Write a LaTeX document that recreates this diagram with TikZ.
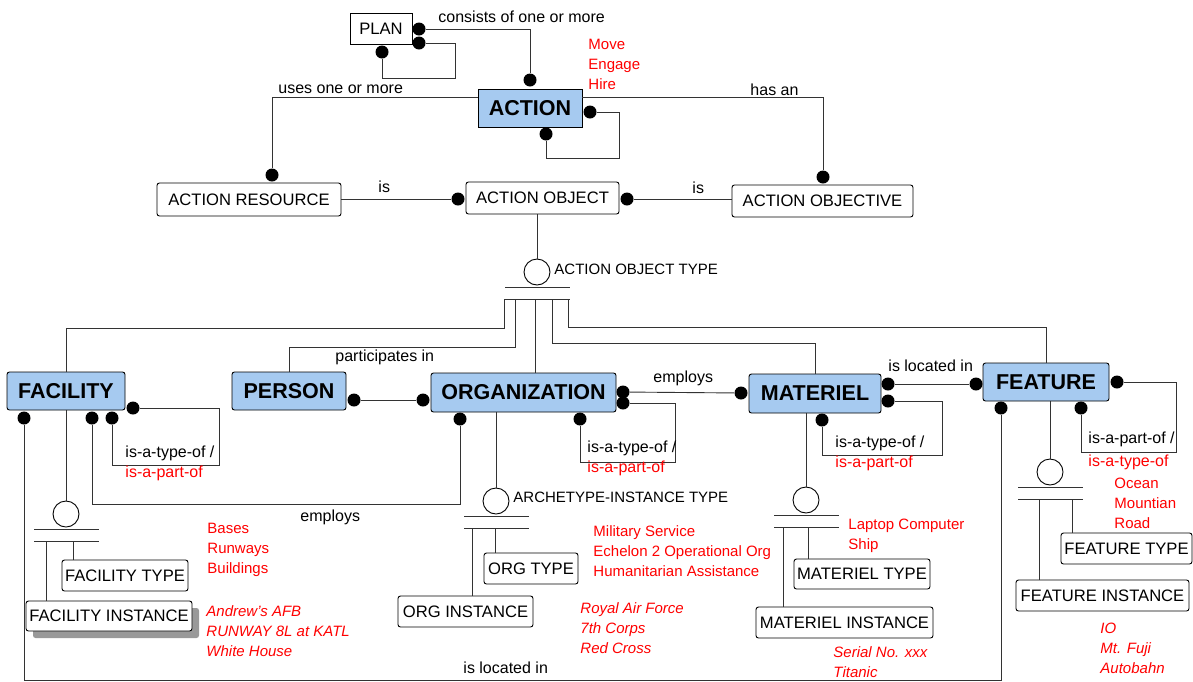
\documentclass[tikz,border=0pt]{standalone}
\usepackage{fontspec}
\setmainfont{Liberation Sans}
\usetikzlibrary{shadows}
\definecolor{entblue}{RGB}{166,202,240}

\begin{document}
\begin{tikzpicture}
  [x=1pt,y=-1pt,line width=0.9pt]
  \tikzstyle{item} = [draw, fill=white, rounded corners=2.5pt, inner sep=0pt, minimum height=31pt, font=\fontsize{16.6}{19}\selectfont]
  \tikzstyle{entity} = [draw, fill=entblue, rounded corners=2.5pt, inner sep=0pt, minimum height=38pt, font=\bfseries\fontsize{21.5}{25}\selectfont]
  \tikzstyle{blob} = [circle, fill=black, inner sep=0pt, minimum size=13pt]
  \tikzstyle{catsym} = [circle, draw, fill=white, inner sep=0pt, minimum size=26pt]
  \tikzstyle{rel} = [anchor=west, inner sep=0pt, font=\fontsize{16}{20}\selectfont]
  \tikzstyle{eg} = [anchor=west, inner sep=0pt, align=left, text=red, font=\fontsize{15}{20}\selectfont]
  \tikzstyle{egi} = [eg, font=\itshape\fontsize{15}{20}\selectfont]
  \tikzstyle{wire} = [draw=black!80]
  \useasboundingbox (0,0) rectangle (1193,681);

  \node[item, rounded corners=0pt, minimum width=62pt] (plan) at (381,28.5) {PLAN};
  \node[entity, rounded corners=0pt, minimum width=104pt] (act) at (530,108) {ACTION};
  \node[item, minimum width=184pt, minimum height=33pt] (ares) at (249,199.5) {ACTION RESOURCE};
  \node[item, minimum width=153pt, minimum height=32pt] (aobj) at (542.5,198) {ACTION OBJECT};
  \node[item, minimum width=181pt, minimum height=32pt] (aobv) at (822.5,201) {ACTION OBJECTIVE};
  \node[entity, minimum width=118pt] (fac) at (66,391) {FACILITY};
  \node[entity, minimum width=114pt] (per) at (289,391) {PERSON};
  \node[entity, minimum width=185pt, minimum height=39pt] (org) at (523.5,392.5) {ORGANIZATION};
  \node[entity, minimum width=132pt, minimum height=39pt] (mat) at (815,393.5) {MATERIEL};
  \node[entity, minimum width=126pt] (fea) at (1046,382) {FEATURE};
  \node[item, minimum width=126pt] (factype) at (125,575.5) {FACILITY TYPE};
  \node[item, minimum width=166pt, minimum height=30pt, drop shadow={shadow xshift=7pt, shadow yshift=-7pt, fill=black!40, opacity=1}] (facinst) at (109,616) {FACILITY INSTANCE};
  \node[item, minimum width=94pt] (orgtype) at (531,568.5) {ORG TYPE};
  \node[item, minimum width=135pt] (orginst) at (465.5,611.5) {ORG INSTANCE};
  \node[item, minimum width=136pt, minimum height=30pt] (mattype) at (862,574) {MATERIEL TYPE};
  \node[item, minimum width=177pt] (matinst) at (844.5,622.5) {MATERIEL INSTANCE};
  \node[item, minimum width=131pt] (featype) at (1126.5,548.5) {FEATURE TYPE};
  \node[item, minimum width=173pt] (feainst) at (1102.5,595.5) {FEATURE INSTANCE};

  \foreach \n/\x/\y in {aot/537/272, fct/66/514, ort/496/501, mtt/806/500, ftt/1050/472} {
    \node[catsym] (\n) at (\x,\y) {};
    \draw[wire] (\x-32,\y+15) -- (\x+33,\y+15) (\x-32,\y+27) -- (\x+33,\y+27);
  }

  \foreach \n/\x/\y in {pl1/419/29, pl2/419/43, pl3/382/52, ac1/530/80, ac2/590/112, ac3/546/134,
      ar1/272/175, ao1/458/199, ao2/627/199, aj1/823/177,
      fa1/24/418, fa2/92/418, fa3/112/418, fa4/133/408, pe1/354/400,
      or1/423/400, or2/460/419, or3/580/419, or4/623/392, or5/623/403,
      ma1/741/393, ma2/888/384, ma3/888/401, ma4/822/420,
      fe1/976/384, fe2/1117/382, fe3/1001/408, fe4/1081/408}
    \node[blob] (\n) at (\x,\y) {};

  \draw[wire] (pl1) -| (ac1);
  \draw[wire] (pl2) -| (455,78) -| (pl3);
  \draw[wire] ([yshift=-9pt]act.north west) -| (ar1);
  \draw[wire] ([yshift=-9pt]act.north east) -| (aj1);
  \draw[wire] (ac2) -| (619,158) -| (ac3);
  \draw[wire] (ao1) -- (ao1 -| ares.east);
  \draw[wire] (ao2) -- (ao2 -| aobv.west);
  \draw[wire] (aot) -- (aot |- aobj.south);

  \draw[wire] (504,299) -- (504,328) -| (fac.north);
  \draw[wire] (515,299) -- (515,347) -| (per.north);
  \draw[wire] (535,299) -- (org.north -| 535,299);
  \draw[wire] (552,299) -- (552,343) -| (mat.north);
  \draw[wire] (568,299) -- (568,327) -| (fea.north);

  \draw[wire] (fct) -- (fct |- fac.south);
  \draw[wire] (ort) -- (ort |- org.south);
  \draw[wire] (mtt) -- (mtt |- mat.south);
  \draw[wire] (ftt) -- (ftt |- fea.south);

  \draw[wire] (fa1) |- (1001,680) -- (fe3);
  \draw[wire] (fa2) |- (460,504) -- (or2);
  \draw[wire] (fa4) -| (219,465) -| (fa3);
  \draw[wire] (pe1) -- (or1);
  \draw[wire] (or4) -- (ma1);
  \draw[wire] (or5) -| (675,462) -| (or3);
  \draw[wire] (ma2) -- (fe1);
  \draw[wire] (ma3) -| (942,455) -| (ma4);
  \draw[wire] (fe2) -| (1176,452) -| (fe4);

  \draw[wire] (46,541) -- (facinst.north -| 46,541);
  \draw[wire] (73,541) -- (factype.north -| 73,541);
  \draw[wire] (472,528) -- (orginst.north -| 472,528);
  \draw[wire] (495,528) -- (orgtype.north -| 495,528);
  \draw[wire] (783,527) -- (matinst.north -| 783,527);
  \draw[wire] (808,527) -- (mattype.north -| 808,527);
  \draw[wire] (1039,499) -- (feainst.north -| 1039,499);
  \draw[wire] (1072,499) -- (featype.north -| 1072,499);

  \node[rel] (lcons) at (438,17) {consists of one or more};
  \node[rel] (luses) at (278,89) {uses one or more};
  \node[rel] (lhas) at (750,90) {has an};
  \node[rel] (lis1) at (378,187) {is};
  \node[rel] (lis2) at (692,188) {is};
  \node[rel, font=\fontsize{15}{18}\selectfont] (laot) at (554,269) {ACTION OBJECT TYPE};
  \node[rel] (lpart) at (335,357) {participates in};
  \node[rel] (lemp1) at (653,378) {employs};
  \node[rel] (lloc1) at (888,366) {is located in};
  \node[rel] (lemp2) at (300,517) {employs};
  \node[rel] (lloc2) at (463,668) {is located in};
  \node[rel, font=\fontsize{15}{18}\selectfont] (lait) at (513,497) {ARCHETYPE-INSTANCE TYPE};
  \node[rel, align=left] (lfac) at (125,463) {is-a-type-of /\\\textcolor{red}{is-a-part-of}};
  \node[rel, align=left] (lorg) at (587,458) {is-a-type-of /\\\textcolor{red}{is-a-part-of}};
  \node[rel, align=left] (lmat) at (835,453) {is-a-type-of /\\\textcolor{red}{is-a-part-of}};
  \node[rel] (lfea1) at (1088,439) {is-a-part-of /};
  \node[rel, text=red] (lfea2) at (1088,462) {is-a-type-of};

  \node[eg] (eact) at (588,64) {Move\\Engage\\Hire};
  \node[eg] (efac) at (207,550) {Bases\\Runways\\Buildings};
  \node[egi] (efaci) at (206,631) {Andrew's AFB\\RUNWAY 8L at KATL\\White House};
  \node[eg] (eorg) at (593,551) {Military Service\\Echelon 2 Operational Org\\Humanitarian Assistance};
  \node[egi] (eorgi) at (580,628) {Royal Air Force\\7th Corps\\Red Cross};
  \node[eg] (emat) at (848,536) {Laptop Computer\\Ship};
  \node[egi] (emati) at (833,662) {Serial No. xxx\\Titanic};
  \node[eg] (efea) at (1114,503) {Ocean\\Mountian\\Road};
  \node[egi] (efeai) at (1100,648) {IO\\Mt. Fuji\\Autobahn};
\end{tikzpicture}
\end{document}
